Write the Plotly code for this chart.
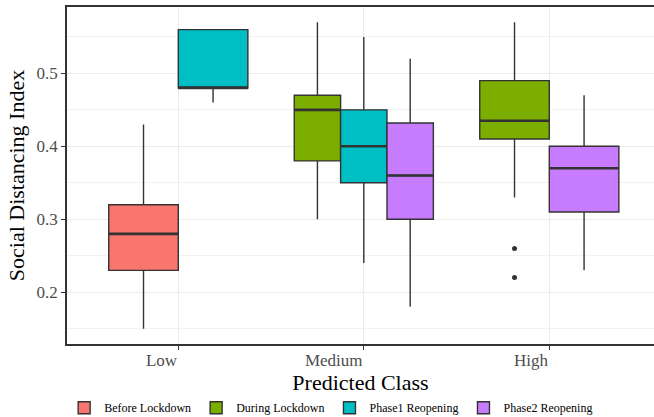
import plotly.graph_objects as go

# Categories on the x axis and the four periods (fill groups)
categories = ["Low", "Medium", "High"]
groups = ["Before Lockdown", "During Lockdown", "Phase1 Reopening", "Phase2 Reopening"]
colors = ["#F8766D", "#7CAE00", "#00BFC4", "#C77CFF"]

# Box statistics per group, one entry per category (None = no data)
lower = {
    "Before Lockdown":  [0.15, None, None],
    "During Lockdown":  [None, 0.30, 0.33],
    "Phase1 Reopening": [0.46, 0.24, None],
    "Phase2 Reopening": [None, 0.18, 0.23],
}
q1 = {
    "Before Lockdown":  [0.23, None, None],
    "During Lockdown":  [None, 0.38, 0.41],
    "Phase1 Reopening": [0.48, 0.35, None],
    "Phase2 Reopening": [None, 0.30, 0.31],
}
median = {
    "Before Lockdown":  [0.28, None, None],
    "During Lockdown":  [None, 0.45, 0.435],
    "Phase1 Reopening": [0.48, 0.40, None],
    "Phase2 Reopening": [None, 0.36, 0.37],
}
q3 = {
    "Before Lockdown":  [0.32, None, None],
    "During Lockdown":  [None, 0.47, 0.49],
    "Phase1 Reopening": [0.56, 0.45, None],
    "Phase2 Reopening": [None, 0.432, 0.40],
}
upper = {
    "Before Lockdown":  [0.43, None, None],
    "During Lockdown":  [None, 0.57, 0.57],
    "Phase1 Reopening": [0.56, 0.55, None],
    "Phase2 Reopening": [None, 0.52, 0.47],
}
# Outlying observations: (group, category, value)
outliers = [
    ("During Lockdown", "High", 0.26),
    ("During Lockdown", "High", 0.22),
]

DODGE = 0.75  # total width shared by the boxes of one category
SERIF = "Liberation Serif, Times New Roman, serif"
INK = "#333333"

fig = go.Figure()
centers = {}
for ci, cat in enumerate(categories):
    present = [g for g in groups if median[g][ci] is not None]
    w = DODGE / len(present)
    for k, g in enumerate(present):
        centers[(g, cat)] = (ci + 1 - DODGE / 2 + w * (k + 0.5), w)

shown = set()
med_x, med_y = [], []
for g, col in zip(groups, colors):
    for ci, cat in enumerate(categories):
        if median[g][ci] is None:
            continue
        xc, w = centers[(g, cat)]
        fig.add_trace(go.Box(
            x=[xc], q1=[q1[g][ci]], median=[median[g][ci]], q3=[q3[g][ci]],
            lowerfence=[lower[g][ci]], upperfence=[upper[g][ci]],
            width=w, whiskerwidth=0, boxpoints=False,
            fillcolor=col, line=dict(color=INK, width=1.4),
            name=g, legendgroup=g, showlegend=g not in shown,
        ))
        shown.add(g)
        # thicker median bar, spanning the box width
        med_x += [xc - w / 2, xc + w / 2, None]
        med_y += [median[g][ci], median[g][ci], None]

fig.add_trace(go.Scatter(
    x=med_x, y=med_y, mode="lines", line=dict(color=INK, width=2.6),
    showlegend=False, hoverinfo="skip",
))

fig.add_trace(go.Scatter(
    x=[centers[(g, c)][0] for g, c, _ in outliers],
    y=[v for _, _, v in outliers],
    mode="markers", marker=dict(color=INK, size=5),
    showlegend=False, hoverinfo="skip",
))

grey_text = "#4D4D4D"
fig.update_layout(
    width=654, height=417,
    margin=dict(l=67, r=0, t=7, b=73, autoexpand=False),
    paper_bgcolor="white", plot_bgcolor="white",
    font=dict(family=SERIF, color="black"),
    legend=dict(orientation="h", x=0.45, xanchor="center", y=-0.232, yanchor="bottom",
                font=dict(family=SERIF, size=12, color="black"), itemwidth=30,
                tracegroupgap=0),
    xaxis=dict(
        range=[0.4, 0.4 + 587 / 185.5],
        tickvals=[1, 2, 3], ticktext=categories,
        ticklabelposition="outside left",
        ticks="outside", ticklen=4, tickcolor=INK, tickwidth=1,
        tickfont=dict(family=SERIF, size=17, color=grey_text),
        showgrid=True, gridcolor="#EBEBEB", gridwidth=1,
        showline=True, linecolor=INK, linewidth=1.5, mirror=True,
        zeroline=False, automargin=False,
        title=dict(text="Predicted Class", font=dict(family=SERIF, size=22, color="black"),
                   standoff=2),
    ),
    yaxis=dict(
        range=[0.129, 0.591],
        tickvals=[0.2, 0.3, 0.4, 0.5],
        ticks="outside", ticklen=4, tickcolor=INK, tickwidth=1,
        tickfont=dict(family=SERIF, size=17, color=grey_text),
        showgrid=True, gridcolor="#EBEBEB", gridwidth=1,
        minor=dict(tickvals=[0.15, 0.25, 0.35, 0.45, 0.55], showgrid=True,
                   gridcolor="#F2F2F2", gridwidth=0.8),
        showline=True, linecolor=INK, linewidth=1.5, mirror=False,
        zeroline=False, automargin=False,
        title=dict(text="Social Distancing Index", font=dict(family=SERIF, size=22, color="black"),
                   standoff=6),
    ),
)

fig.write_html("out.html")
